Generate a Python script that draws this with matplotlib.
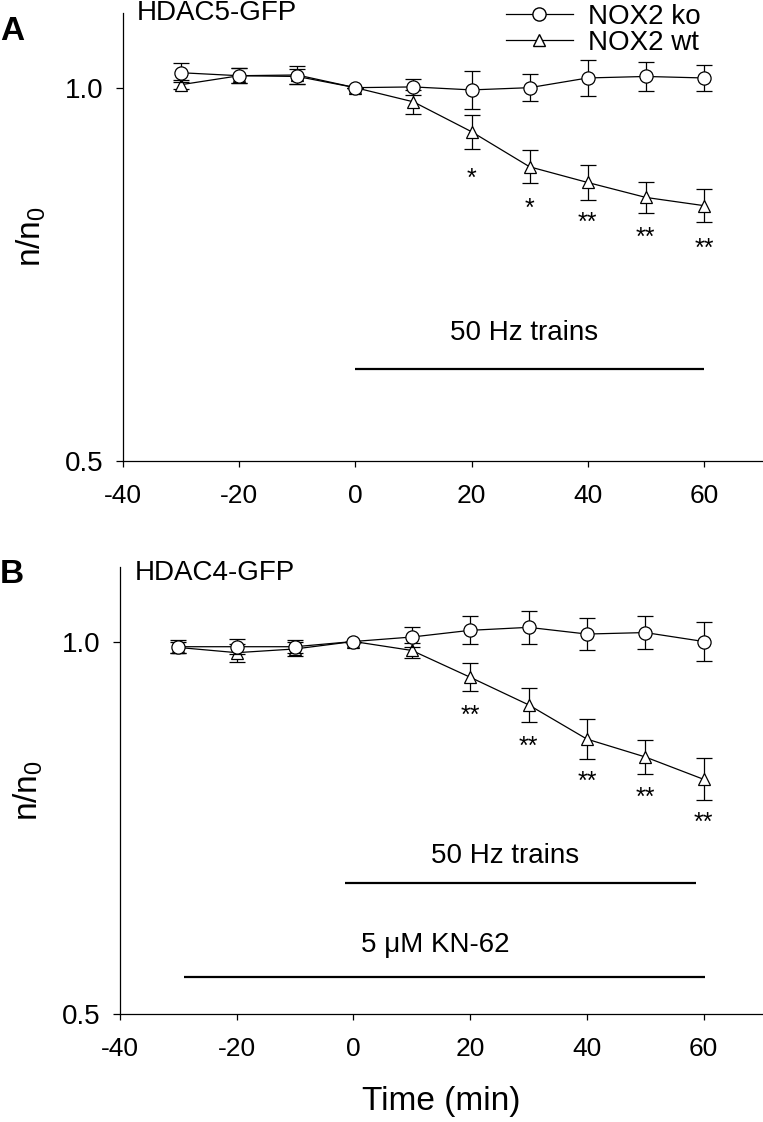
import matplotlib
matplotlib.use('Agg')
import matplotlib.pyplot as plt
from matplotlib.lines import Line2D

plt.rcParams['font.family'] = ['Liberation Sans', 'DejaVu Sans']
plt.rcParams['mathtext.fontset'] = 'custom'
plt.rcParams['mathtext.rm'] = 'Liberation Sans'
plt.rcParams['mathtext.it'] = 'Liberation Sans'
plt.rcParams['axes.unicode_minus'] = False

# time points (min)
time = [-30, -20, -10, 0, 10, 20, 30, 40, 50, 60]

# panel A: HDAC5-GFP
a_ko = [1.020, 1.016, 1.015, 1.000, 1.001, 0.997, 1.000, 1.013, 1.015, 1.013]
a_ko_err = [0.013, 0.010, 0.010, 0.000, 0.011, 0.025, 0.018, 0.024, 0.020, 0.018]
a_wt = [1.004, 1.016, 1.017, 1.000, 0.981, 0.941, 0.894, 0.873, 0.853, 0.842]
a_wt_err = [0.006, 0.010, 0.012, 0.000, 0.016, 0.023, 0.022, 0.023, 0.021, 0.022]
a_star_x = [20, 30, 40, 50, 60]
a_star_y = [0.878, 0.838, 0.819, 0.799, 0.784]
a_star_txt = ['*', '*', '**', '**', '**']

# panel B: HDAC4-GFP
b_ko = [0.993, 0.993, 0.993, 1.000, 1.006, 1.015, 1.019, 1.010, 1.012, 1.000]
b_ko_err = [0.009, 0.010, 0.009, 0.000, 0.013, 0.019, 0.022, 0.021, 0.022, 0.026]
b_wt = [0.992, 0.985, 0.990, 1.000, 0.988, 0.952, 0.915, 0.869, 0.845, 0.815]
b_wt_err = [0.008, 0.012, 0.010, 0.000, 0.010, 0.019, 0.023, 0.027, 0.023, 0.028]
b_star_x = [20, 30, 40, 50, 60]
b_star_y = [0.900, 0.858, 0.812, 0.790, 0.756]
b_star_txt = ['**', '**', '**', '**', '**']

fig = plt.figure(figsize=(7.63, 11.22), dpi=100)


def draw_panel(ax, ko, ko_err, wt, wt_err, sx, sy, stxt):
    style = dict(color='black', lw=0.9, elinewidth=0.9, capsize=6, capthick=0.9,
                 mfc='white', mec='black', mew=0.9)
    ax.errorbar(time, wt, yerr=wt_err, fmt='-^', ms=9, zorder=2, **style)
    ax.errorbar(time, ko, yerr=ko_err, fmt='-o', ms=9.5, zorder=3, **style)
    for x, y, t in zip(sx, sy, stxt):
        ax.text(x, y, t, ha='center', va='center', fontsize=18)
    ax.set_xlim(-40, 70)
    ax.set_ylim(0.5, 1.1)
    ax.set_xticks([-40, -20, 0, 20, 40, 60])
    ax.set_yticks([0.5, 1.0])
    ax.set_yticklabels(['0.5', '1.0'])
    ax.spines['top'].set_visible(False)
    ax.spines['right'].set_visible(False)
    for s in ['left', 'bottom']:
        ax.spines[s].set_linewidth(0.9)
    ax.tick_params(axis='x', direction='out', length=4.5, width=0.9, pad=12, labelsize=19)
    ax.tick_params(axis='y', direction='out', length=5, width=0.9, pad=9, labelsize=20)
    ax.set_ylabel(r'$\mathregular{n/n_0}$', fontsize=24, labelpad=12)


# Panel A
axA = fig.add_axes([123 / 763, 1 - 461 / 1122, 639 / 763, 448 / 1122])
draw_panel(axA, a_ko, a_ko_err, a_wt, a_wt_err, a_star_x, a_star_y, a_star_txt)
axA.hlines(0.623, 0, 60, color='black', lw=1.6)
axA.text(29, 0.672, '50 Hz trains', ha='center', va='center', fontsize=20)
handles = [
    Line2D([], [], color='black', lw=0.9, marker='o', ms=9.5, mfc='white', mec='black'),
    Line2D([], [], color='black', lw=0.9, marker='^', ms=9, mfc='white', mec='black'),
]
axA.legend(handles, ['NOX2 ko', 'NOX2 wt'], loc='upper left', bbox_to_anchor=(492 / 763, 1.0 + 10 / 1122),
           bbox_transform=fig.transFigure, frameon=False, fontsize=20,
           handlelength=2.4, handletextpad=0.55, labelspacing=0.0, borderpad=0)

# Panel B
axB = fig.add_axes([120 / 763, 1 - 1014 / 1122, 642 / 763, 447 / 1122])
draw_panel(axB, b_ko, b_ko_err, b_wt, b_wt_err, b_star_x, b_star_y, b_star_txt)
axB.hlines(0.676, -1.5, 58.7, color='black', lw=1.6)
axB.text(26, 0.712, '50 Hz trains', ha='center', va='center', fontsize=20)
axB.hlines(0.550, -29, 60.3, color='black', lw=1.6)
axB.text(14, 0.592, '5 \u03bcM KN-62', ha='center', va='center', fontsize=20)
axB.set_xlabel('Time (min)', fontsize=24, labelpad=18)

# panel titles and letters
fig.text(137 / 763, 1 - 20 / 1122, 'HDAC5-GFP', ha='left', va='baseline', fontsize=20)
fig.text(135 / 763, 1 - 580 / 1122, 'HDAC4-GFP', ha='left', va='baseline', fontsize=20)
fig.text(0 / 763, 1 - 40 / 1122, 'A', ha='left', va='baseline', fontsize=24, fontweight='bold')
fig.text(0 / 763, 1 - 583 / 1122, 'B', ha='left', va='baseline', fontsize=24, fontweight='bold')

fig.savefig('out.png', dpi=100)
